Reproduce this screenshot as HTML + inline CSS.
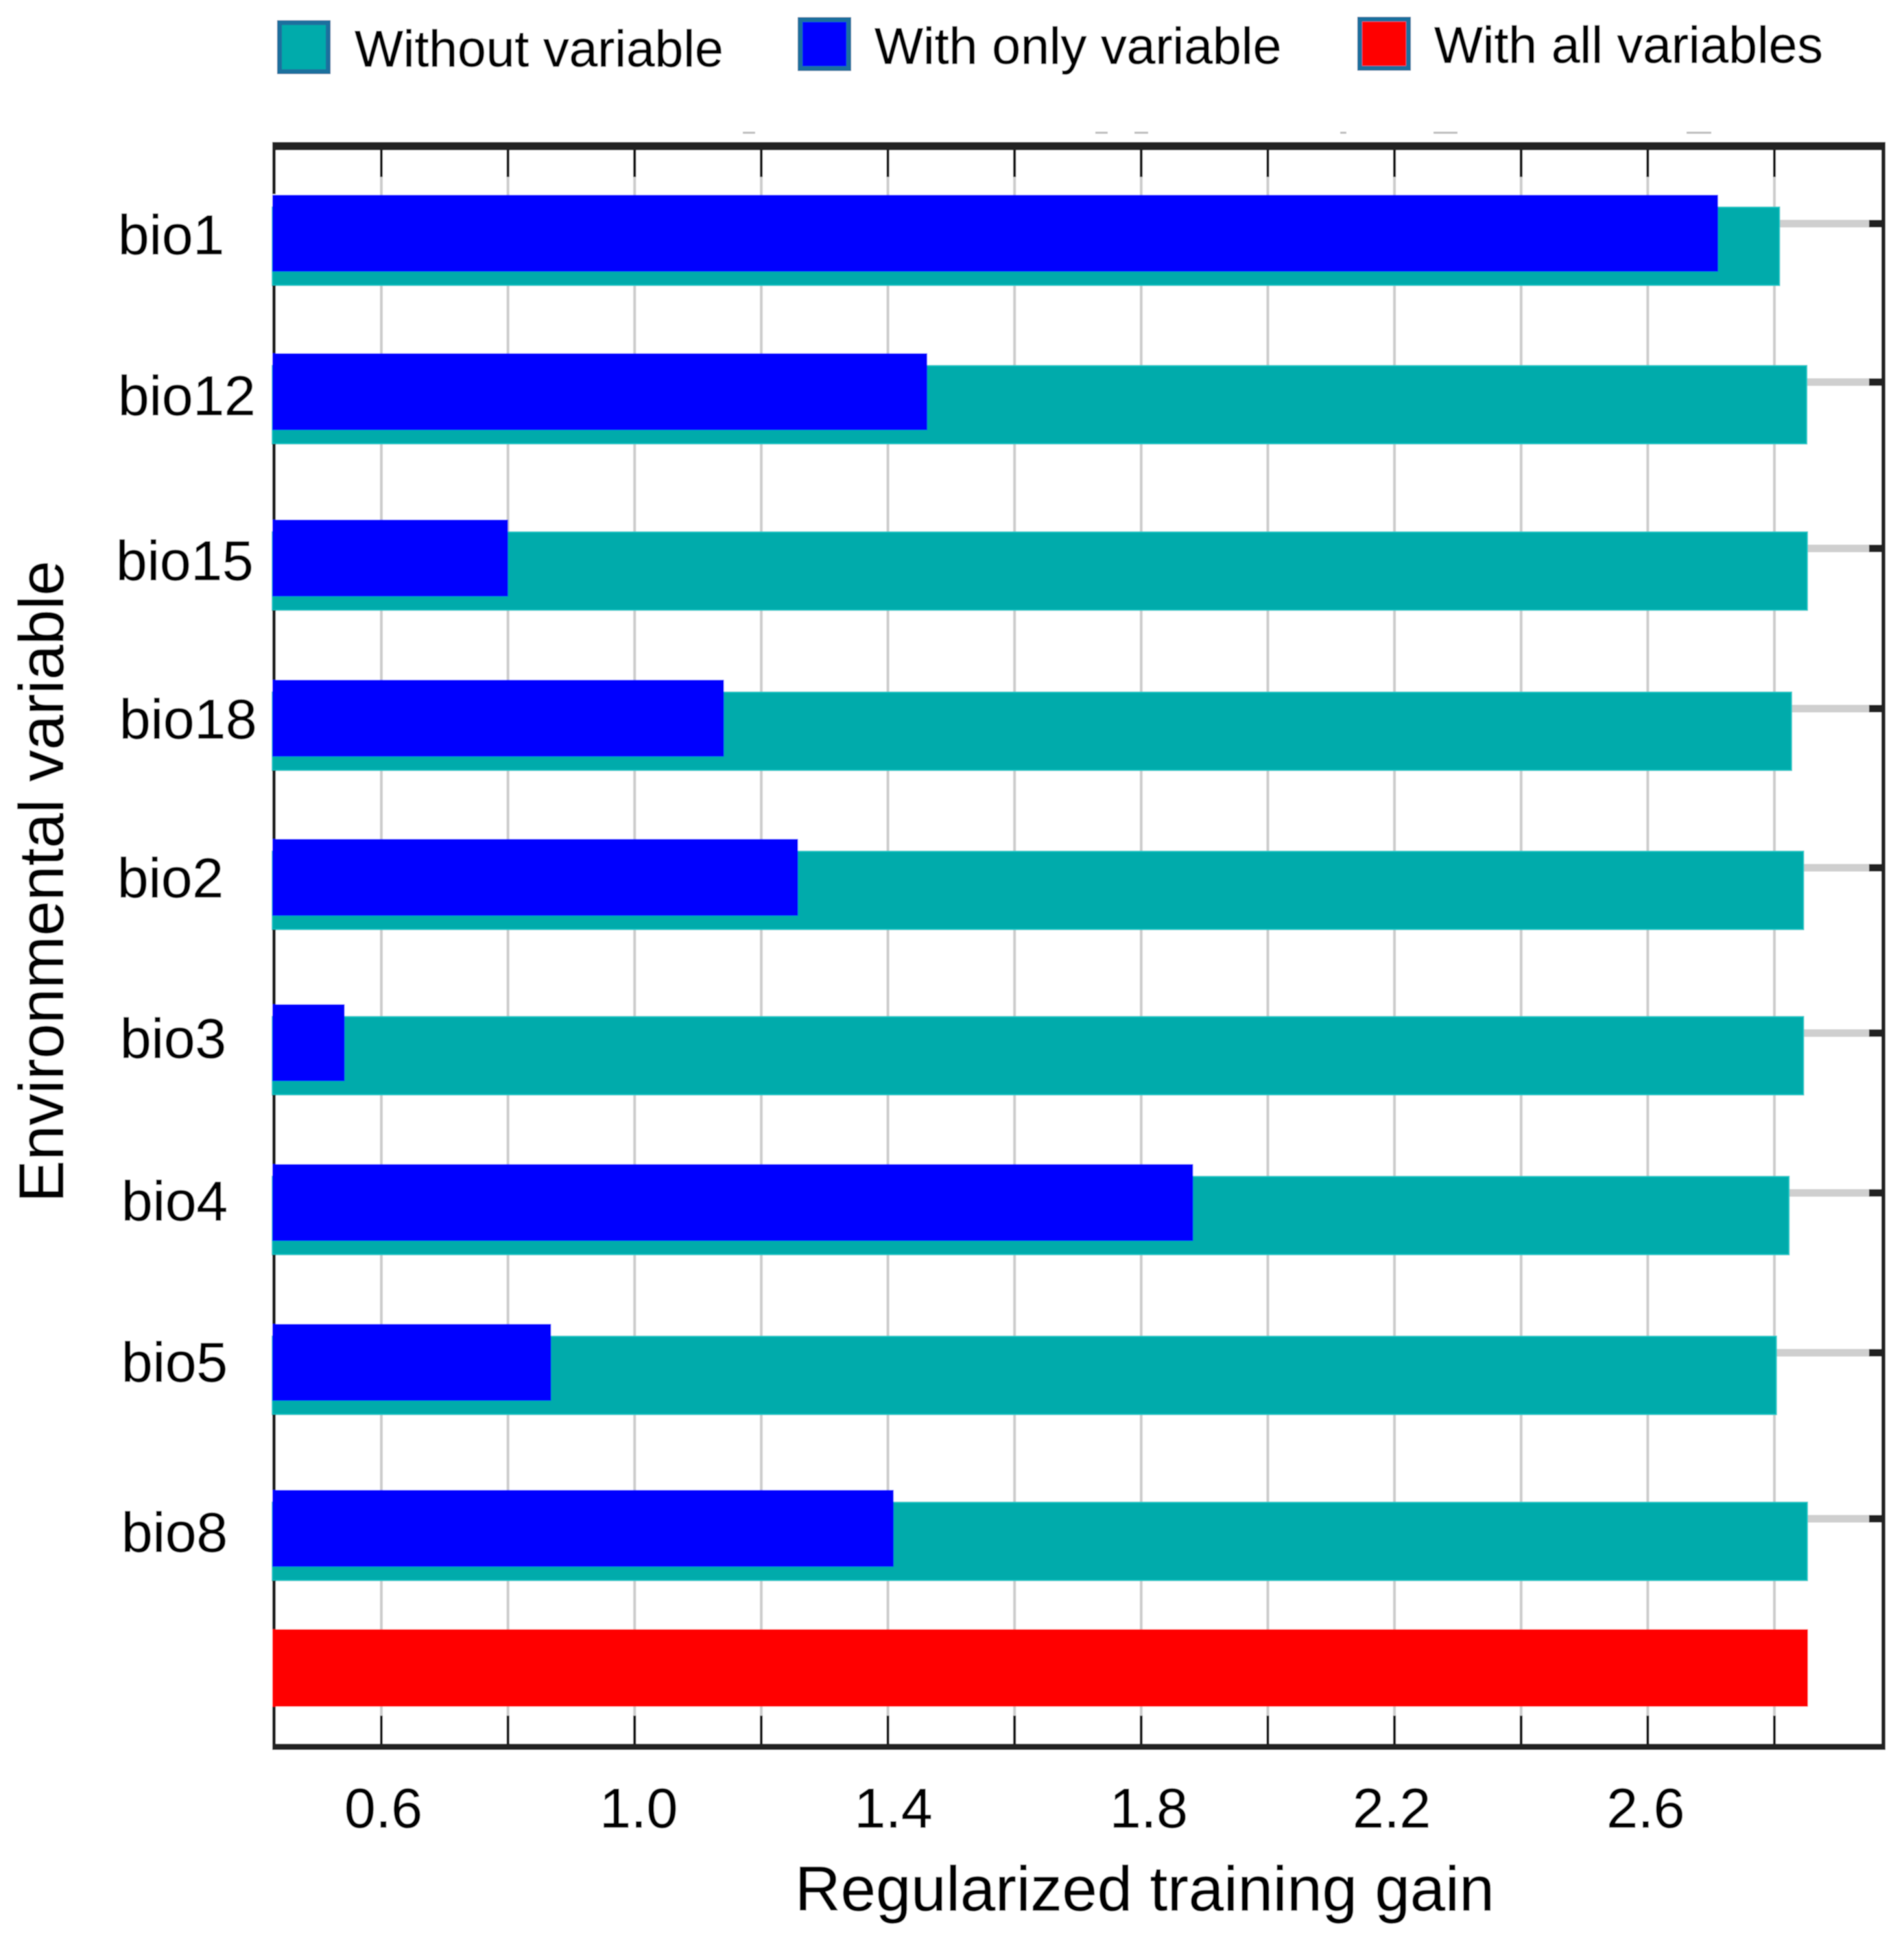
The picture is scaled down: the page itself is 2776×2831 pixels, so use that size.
<!DOCTYPE html>
<html lang="en">
<head>
<meta charset="utf-8">
<title>Regularized training gain by environmental variable</title>
<style>
  html, body { margin: 0; padding: 0; background: #ffffff; }
  svg { display: block; }
  text { font-family: "Liberation Sans", Arial, sans-serif; fill: #000000; stroke: #000000; stroke-width: 0.6; }
</style>
</head>
<body>
<svg id="chart" xmlns="http://www.w3.org/2000/svg" width="2776" height="2831" viewBox="0 0 2776 2831">
  <defs>
    <filter id="soft" x="0" y="0" width="100%" height="100%" filterUnits="objectBoundingBox">
      <feGaussianBlur stdDeviation="0.9"></feGaussianBlur>
    </filter>
  </defs>
  <rect x="0" y="0" width="2776" height="2831" fill="#ffffff"></rect>
  <g id="root" filter="url(#soft)">
    <rect x="0" y="0" width="2776" height="2831" fill="#ffffff"></rect>

    <g>
      <g>
        <rect x="407.5" y="33" width="71" height="71.5" fill="#02abab" stroke="#1b6f9e" stroke-width="7"></rect>
        <text x="517" y="97" font-size="75">Without variable</text>
      </g>
      <g>
        <rect x="1166.5" y="28.5" width="71" height="71.5" fill="#0000ff" stroke="#1b6f9e" stroke-width="7"></rect>
        <text x="1275" y="93" font-size="75.2">With only variable</text>
      </g>
      <g>
        <rect x="1982.5" y="28" width="71" height="71.5" fill="#ff0000" stroke="#1b6f9e" stroke-width="7"></rect>
        <text x="2091" y="91.5" font-size="75">With all variables</text>
      </g>
    </g>

    <g fill="#bdbdbd">
      <rect x="1083" y="192" width="18" height="3"></rect>
      <rect x="1597" y="192" width="18" height="3"></rect>
      <rect x="1654" y="192" width="20" height="3"></rect>
      <rect x="1954" y="192" width="9" height="3"></rect>
      <rect x="2090" y="192" width="35" height="3"></rect>
      <rect x="2459" y="192" width="36" height="3"></rect>
    </g>

    <g id="grid"></g>
    <g id="bars"></g>
    <g id="frame"></g>
    <g id="yLabels"></g>
    <g id="xLabels"></g>

    <text x="1159" y="2785" font-size="92.2">Regularized training gain</text>
    <text transform="translate(92 1753) rotate(-90)" x="0" y="0" font-size="92">Environmental variable</text>
  </g>
</svg>
<script>
const categories = ["bio1", "bio12", "bio15", "bio18", "bio2", "bio3", "bio4", "bio5", "bio8"];
const withoutVariable = [2.808, 2.851, 2.852, 2.827, 2.846, 2.846, 2.823, 2.803, 2.852];
const withOnlyVariable = [2.711, 1.462, 0.800, 1.141, 1.258, 0.542, 1.882, 0.868, 1.409];
const withAllVariables = [2.853];
const xTickValues = [0.6, 0.8, 1.0, 1.2, 1.4, 1.6, 1.8, 2.0, 2.2, 2.4, 2.6, 2.8];
const xTickLabels = ["0.6", "1.0", "1.4", "1.8", "2.2", "2.6"];

const SVG_NS = "http://www.w3.org/2000/svg";

function xScale(v) {
  return 556 + (v - 0.6) * 923.2;
}

function rowTop(i) {
  const rowNudge = [0, -5, 1.5, -1, -5, 0, -3, -6, 0, -33];
  return 302 + i * 236 + rowNudge[i];
}

function make(tag, parent, attrs) {
  const el = document.createElementNS(SVG_NS, tag);
  for (const k in attrs) el.setAttribute(k, attrs[k]);
  parent.appendChild(el);
  return el;
}

const plotLeft = 397;
const grid = document.getElementById("grid");
const bars = document.getElementById("bars");
const frame = document.getElementById("frame");
const yLabels = document.getElementById("yLabels");
const xLabels = document.getElementById("xLabels");

xTickValues.forEach(function (v) {
  const x = xScale(v);
  const line = make("rect", grid, { x: x - 2, y: 219, width: 4, height: 2327, fill: "#cccccc" });
  
  
  const top = make("rect", grid, { x: x - 2, y: 216, width: 4, height: 42, fill: "#111111" });
  
  
  const bottom = make("rect", grid, { x: x - 2, y: 2501, width: 4, height: 45, fill: "#111111" });
  
  
});

categories.forEach(function (name, i) {
  const t = rowTop(i);
  const yGrid = make("rect", grid, { x: 399, y: t + 18.5, width: 2326, height: 11, fill: "#cfcfcf" });
  
  
  const yTick = make("rect", grid, { x: 2725, y: t + 18.5, width: 21, height: 11, fill: "#222222" });
  
  

  const teal = make("rect", bars, {
    x: plotLeft, y: t, width: xScale(withoutVariable[i]) - plotLeft, height: 114,
    fill: "#02abab", stroke: "#12c8c8", "stroke-width": 2
  });
  
  

  const blue = make("rect", bars, {
    x: plotLeft, y: t - 18, width: xScale(withOnlyVariable[i]) - plotLeft, height: 112,
    fill: "#0000ff"
  });
  
  
});

withAllVariables.forEach(function (v) {
  const red = make("rect", bars, {
    x: plotLeft, y: rowTop(9) - 18, width: xScale(v) - plotLeft, height: 113,
    fill: "#ff0000"
  });
  
  
});

const firstSegment = make("rect", frame, { x: 397, y: 213, width: 5, height: 70, fill: "#1c1c1c" });



categories.forEach(function (name, i) {
  const from = rowTop(i) + 114;
  const to = rowTop(i + 1) - 18;
  const seg = make("rect", frame, { x: 397, y: from, width: 5, height: to - from, fill: "#1c1c1c" });
  
  
});

const lastSegment = make("rect", frame, { x: 397, y: rowTop(9) + 95, width: 5, height: 2551 - rowTop(9) - 95, fill: "#1c1c1c" });



const topAxis = make("rect", frame, { x: 397, y: 207, width: 2352, height: 12, fill: "#222222" });


const bottomAxis = make("rect", frame, { x: 397, y: 2542, width: 2352, height: 9, fill: "#222222" });


const rightAxis = make("rect", frame, { x: 2743, y: 207, width: 6, height: 2344, fill: "#222222" });



categories.forEach(function (name, i) {
  const labelLeft = [172, 172, 169, 174, 171, 175, 177, 177, 177];
  const labelDrop = [68.5, 72, 70, 67.5, 67, 60, 64, 66, 72];
  const label = make("text", yLabels, { x: labelLeft[i], y: rowTop(i) + labelDrop[i], "font-size": 82 });
  
  
  label.textContent = name;
});

xTickLabels.forEach(function (txt, i) {
  const labelShift = [3, 6, 8, 11, -4, -3];
  const label = make("text", xLabels, {
    x: xScale(parseFloat(txt)) + labelShift[i], y: 2664, "font-size": 82, "text-anchor": "middle"
  });
  
  
  label.textContent = txt;
});
</script>
</body>
</html>
